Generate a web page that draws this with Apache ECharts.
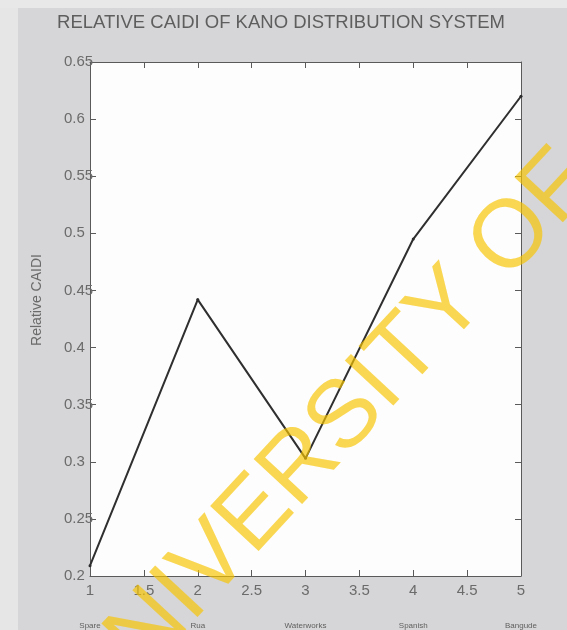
<!DOCTYPE html>
<html>
<head>
<meta charset="utf-8">
<script src="https://cdn.jsdelivr.net/npm/echarts@6/dist/echarts.min.js"></script>
<style>
  html, body { margin: 0; padding: 0; background: #d6d6d8; }
  #chart { width: 567px; height: 630px; }
</style>
</head>
<body>
<div id="chart"></div>
<script>
// Feeder positions along the x axis and their names
const feederIndex = [1, 2, 3, 4, 5];
const feederNames = ['Spare', 'Rua', 'Waterworks', 'Spanish', 'Bangude'];
// Relative CAIDI for each feeder
const relativeCaidi = [0.209, 0.442, 0.303, 0.495, 0.620];

const axisGrey = '#5a5a5a';
const labelGrey = '#6b6b6b';
const fontFamily = '"Liberation Sans", Arial, sans-serif';

const chart = echarts.init(document.getElementById('chart'), null, { renderer: 'canvas' });

const boxAxisLine = { show: true, lineStyle: { color: axisGrey, width: 1 } };
const innerTicks = { show: true, inside: true, length: 6, lineStyle: { color: axisGrey, width: 1 } };

chart.setOption({
  backgroundColor: '#d6d6d8',
  animation: false,
  title: {
    text: 'RELATIVE CAIDI OF KANO DISTRIBUTION SYSTEM',
    left: 276,
    textAlign: 'center',
    top: 8,
    textStyle: { fontFamily, fontSize: 18.5, fontWeight: 'normal', color: '#5e5e5e' }
  },
  grid: {
    left: 90, right: 46, top: 62, bottom: 54,
    show: true, backgroundColor: '#fdfdfd', borderWidth: 0
  },
  xAxis: [
    {
      type: 'value', position: 'bottom', min: 1, max: 5, interval: 0.5,
      axisLine: boxAxisLine, axisTick: innerTicks, splitLine: { show: false },
      axisLabel: { margin: 7, fontFamily, fontSize: 15, color: labelGrey,
                   formatter: v => String(+v.toFixed(1)) }
    },
    {
      type: 'value', position: 'top', min: 1, max: 5, interval: 0.5,
      axisLine: boxAxisLine, axisTick: innerTicks, splitLine: { show: false },
      axisLabel: { show: false }
    },
    {
      // feeder names underneath the numeric ticks
      type: 'value', position: 'bottom', offset: 38, min: 1, max: 5, interval: 1,
      axisLine: { show: false }, axisTick: { show: false }, splitLine: { show: false },
      axisLabel: { fontFamily, fontSize: 8, color: '#5f5f5f',
                   formatter: v => feederNames[feederIndex.indexOf(Math.round(v))] || '' }
    }
  ],
  yAxis: [
    {
      type: 'value', position: 'left', min: 0.2, max: 0.65, interval: 0.05,
      name: 'Relative CAIDI', nameLocation: 'middle', nameGap: 46,
      nameTextStyle: { fontFamily, fontSize: 14, color: '#6a6a6a', padding: [0, 0, 0, 38] },
      axisLine: boxAxisLine, axisTick: innerTicks, splitLine: { show: false },
      axisLabel: { margin: 26, align: 'left', fontFamily, fontSize: 15, color: labelGrey,
                   formatter: v => String(+v.toFixed(2)) }
    },
    {
      type: 'value', position: 'right', min: 0.2, max: 0.65, interval: 0.05,
      axisLine: boxAxisLine, axisTick: innerTicks, splitLine: { show: false },
      axisLabel: { show: false }
    }
  ],
  series: [{
    type: 'line',
    xAxisIndex: 0, yAxisIndex: 0,
    data: feederIndex.map((x, i) => [x, relativeCaidi[i]]),
    symbol: 'circle', symbolSize: 3,
    itemStyle: { color: '#2c2c2c' },
    lineStyle: { color: '#2f2f2f', width: 2 },
    z: 3
  }],
  graphic: [
    { type: 'rect', left: 0, top: 0, shape: { width: 18, height: 630 },
      style: { fill: '#e6e6e6' }, z: -1 },
    { type: 'rect', left: 0, top: 0, shape: { width: 567, height: 8 },
      style: { fill: '#e8e8e8' }, z: -1 },
    {
      type: 'text',
      x: 578, y: 167,
      rotation: 0.824,
      z: 100,
      silent: true,
      style: {
        text: 'UNIVERSITY OF',
        font: '96px "Liberation Sans", Arial, sans-serif',
        fill: 'rgba(247, 196, 0, 0.68)',
        align: 'right',
        verticalAlign: 'middle'
      }
    }
  ]
});
</script>
</body>
</html>
